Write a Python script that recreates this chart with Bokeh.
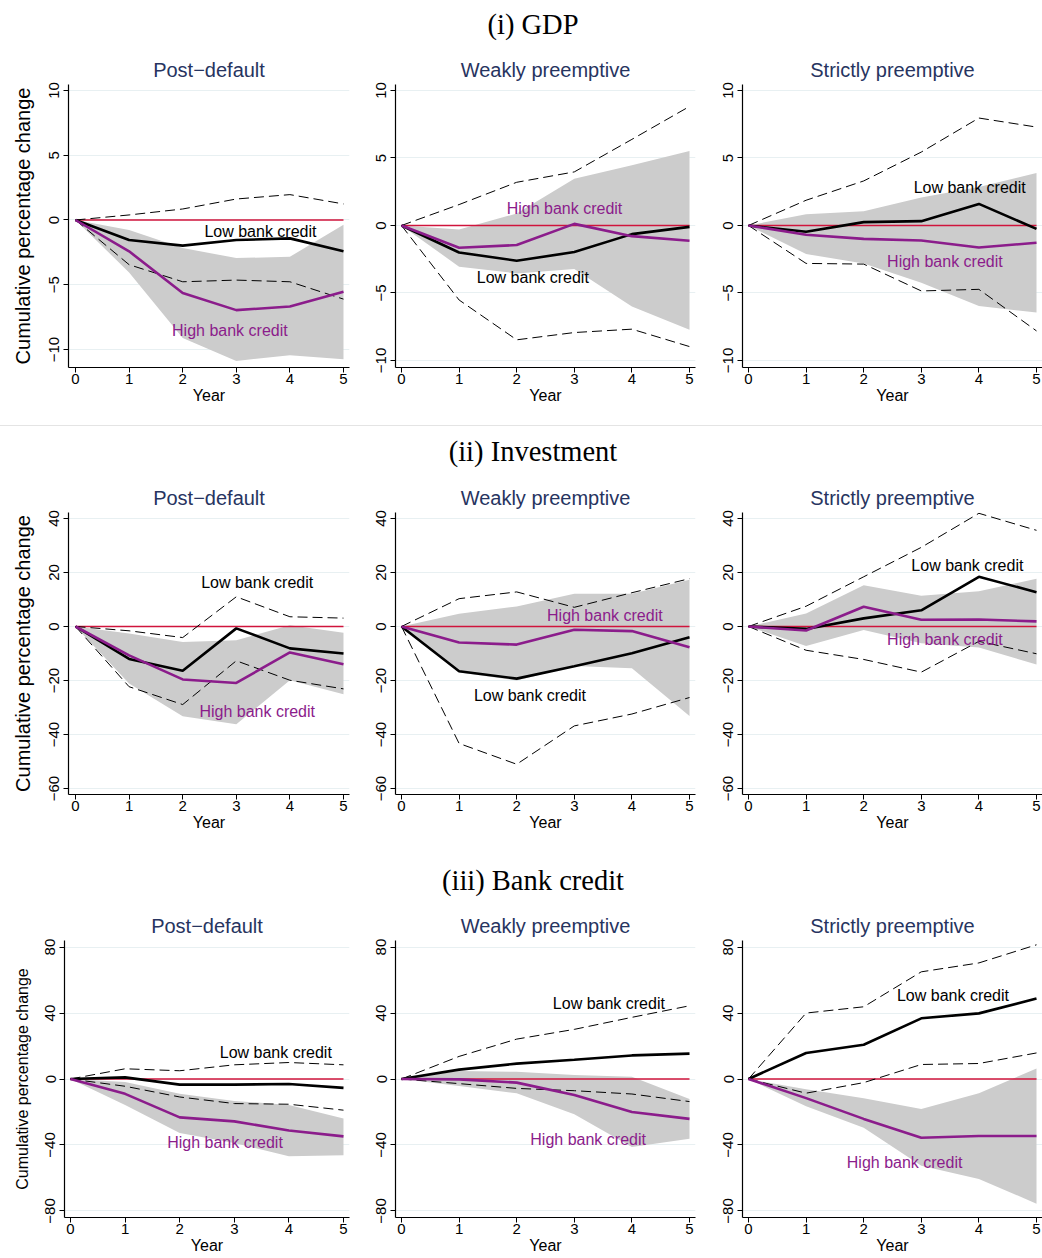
from bokeh.plotting import figure
from bokeh.layouts import column, row
from bokeh.models import Div, Range1d, FixedTicker
from bokeh.core.properties import value
from bokeh.embed import file_html
from bokeh.resources import INLINE

# ---------------- data ----------------
years = [0, 1, 2, 3, 4, 5]
row_titles = ["(i) GDP", "(ii) Investment", "(iii) Bank credit"]
panel_titles = ["Post\u2212default", "Weakly preemptive", "Strictly preemptive"]
gdp_ticks = [-10, -5, 0, 5, 10]
inv_ticks = [-60, -40, -20, 0, 20, 40]
cred_ticks = [-80, -40, 0, 40, 80]
low_label = "Low bank credit"
high_label = "High bank credit"
y_title = "Cumulative percentage change"
x_title = "Year"

# GDP
gdp_post_low = [0, -1.55, -1.98, -1.55, -1.42, -2.42]
gdp_post_low_lb = [0, -3.45, -4.77, -4.64, -4.77, -6.11]
gdp_post_low_ub = [0, 0.39, 0.85, 1.62, 1.96, 1.24]
gdp_post_high = [0, -2.42, -5.64, -6.96, -6.68, -5.54]
gdp_post_high_lb = [0, -4.05, -9.12, -10.88, -10.44, -10.75]
gdp_post_high_ub = [0, -0.77, -2.16, -2.94, -2.84, -0.36]

gdp_weak_low = [0, -2.0, -2.61, -1.97, -0.64, -0.1]
gdp_weak_low_lb = [0, -5.52, -8.47, -7.93, -7.68, -8.97]
gdp_weak_low_ub = [0, 1.55, 3.2, 3.97, 6.38, 8.82]
gdp_weak_high = [0, -1.65, -1.45, 0.12, -0.79, -1.13]
gdp_weak_high_lb = [0, -3.05, -3.55, -3.23, -6.0, -7.73]
gdp_weak_high_ub = [0, -0.3, 0.89, 3.47, 4.46, 5.52]

gdp_strict_low = [0, -0.47, 0.25, 0.32, 1.6, -0.25]
gdp_strict_low_lb = [0, -2.81, -2.86, -4.85, -4.73, -7.81]
gdp_strict_low_ub = [0, 1.87, 3.3, 5.44, 7.96, 7.29]
gdp_strict_high = [0, -0.69, -0.99, -1.11, -1.63, -1.28]
gdp_strict_high_lb = [0, -2.12, -2.81, -4.24, -5.96, -6.45]
gdp_strict_high_ub = [0, 0.84, 1.06, 2.07, 2.86, 3.89]

# Investment
inv_post_low = [0, -12.0, -16.4, -0.7, -8.1, -10.0]
inv_post_low_lb = [0, -22.3, -28.9, -12.7, -19.9, -23.1]
inv_post_low_ub = [0, -1.6, -4.1, 11.0, 3.6, 3.1]
inv_post_high = [0, -10.7, -19.6, -20.9, -9.6, -14.0]
inv_post_high_lb = [0, -21.1, -33.2, -36.2, -19.9, -25.1]
inv_post_high_ub = [0, -2.6, -5.7, -5.1, 0.5, -2.3]

inv_weak_low = [0, -16.6, -19.3, -14.7, -9.9, -4.0]
inv_weak_low_lb = [0, -43.3, -51.0, -36.8, -32.4, -26.3]
inv_weak_low_ub = [0, 10.3, 12.8, 7.1, 12.5, 17.7]
inv_weak_high = [0, -5.9, -6.7, -1.2, -1.7, -7.7]
inv_weak_high_lb = [0, -17.0, -20.0, -14.6, -15.5, -33.1]
inv_weak_high_ub = [0, 4.7, 7.4, 12.1, 12.1, 17.3]

inv_strict_low = [0, -0.9, 3.0, 6.0, 18.4, 12.7]
inv_strict_low_lb = [0, -8.8, -12.2, -16.9, -5.5, -10.1]
inv_strict_low_ub = [0, 7.5, 18.4, 29.3, 41.9, 35.6]
inv_strict_high = [0, -1.5, 7.3, 2.5, 2.6, 1.9]
inv_strict_high_lb = [0, -7.2, -1.3, -6.2, -7.8, -14.1]
inv_strict_high_ub = [0, 4.8, 15.3, 11.4, 13.0, 17.7]

# Bank credit
cred_post_low = [0, 1.0, -3.4, -3.4, -3.0, -5.4]
cred_post_low_lb = [0, -4.4, -10.9, -14.9, -15.3, -18.9]
cred_post_low_ub = [0, 6.2, 5.0, 8.6, 10.0, 8.6]
cred_post_high = [0, -9.0, -23.3, -25.7, -31.2, -34.8]
cred_post_high_lb = [0, -15.7, -32.8, -38.8, -46.8, -46.2]
cred_post_high_ub = [0, -1.8, -9.0, -13.3, -15.7, -23.9]

cred_weak_low = [0, 5.7, 9.3, 11.7, 14.3, 15.4]
cred_weak_low_lb = [0, -2.8, -5.7, -7.1, -9.1, -13.7]
cred_weak_low_ub = [0, 13.7, 24.2, 30.1, 37.4, 44.4]
cred_weak_high = [0, -0.2, -2.2, -9.7, -20.0, -24.2]
cred_weak_high_lb = [0, -4.2, -8.7, -21.4, -41.2, -36.2]
cred_weak_high_ub = [0, 4.8, 4.4, 2.4, 1.4, -12.1]

cred_strict_low = [0, 15.8, 20.8, 36.8, 39.8, 48.8]
cred_strict_low_lb = [0, -8.6, -2.2, 8.8, 9.4, 15.8]
cred_strict_low_ub = [0, 40.0, 43.8, 65.0, 70.4, 81.4]
cred_strict_high = [0, -11.6, -24.2, -35.6, -34.6, -34.6]
cred_strict_high_lb = [0, -16.6, -29.6, -52.6, -60.6, -75.6]
cred_strict_high_ub = [0, -6.2, -11.6, -18.2, -8.6, 6.4]

# ---------------- layout / style (not data) ----------------
panels = [
    [
        (gdp_post_low, gdp_post_low_lb, gdp_post_low_ub, gdp_post_high, gdp_post_high_lb, gdp_post_high_ub),
        (gdp_weak_low, gdp_weak_low_lb, gdp_weak_low_ub, gdp_weak_high, gdp_weak_high_lb, gdp_weak_high_ub),
        (gdp_strict_low, gdp_strict_low_lb, gdp_strict_low_ub, gdp_strict_high, gdp_strict_high_lb, gdp_strict_high_ub),
    ],
    [
        (inv_post_low, inv_post_low_lb, inv_post_low_ub, inv_post_high, inv_post_high_lb, inv_post_high_ub),
        (inv_weak_low, inv_weak_low_lb, inv_weak_low_ub, inv_weak_high, inv_weak_high_lb, inv_weak_high_ub),
        (inv_strict_low, inv_strict_low_lb, inv_strict_low_ub, inv_strict_high, inv_strict_high_lb, inv_strict_high_ub),
    ],
    [
        (cred_post_low, cred_post_low_lb, cred_post_low_ub, cred_post_high, cred_post_high_lb, cred_post_high_ub),
        (cred_weak_low, cred_weak_low_lb, cred_weak_low_ub, cred_weak_high, cred_weak_high_lb, cred_weak_high_ub),
        (cred_strict_low, cred_strict_low_lb, cred_strict_low_ub, cred_strict_high, cred_strict_high_lb, cred_strict_high_ub),
    ],
]
row_ticks = [gdp_ticks, inv_ticks, cred_ticks]

# label anchor positions in data units: (low_x, low_y, high_x, high_y)
label_pos = [
    [(3.45, -0.88, 2.88, -8.5), (2.28, -3.84, 2.83, 1.23), (3.84, 2.81, 3.41, -2.64)],
    [(3.39, 16.3, 3.39, -31.6), (2.23, -25.4, 3.53, 4.1), (3.8, 22.4, 3.41, -4.9)],
    [(3.76, 15.9, 2.83, -38.6), (3.6, 45.7, 3.24, -36.4), (3.55, 50.8, 2.71, -50.6)],
]

y_ranges = [
    [(-11.39, 10.463), (-10.52, 10.444), (-10.52, 10.444)],
    [(-62.2, 42.2), (-62.2, 42.2), (-62.2, 42.2)],
    [(-84.0, 84.0), (-84.0, 84.0), (-84.0, 84.0)],
]
x_ranges = [(-0.1306, 5.112), (-0.104, 5.104), (-0.104, 5.104)]
x_range_r3c1 = (-0.11, 5.11)
col_widths = [360, 345, 337]
border_lr = [(68, 11), (35, 10), (37, 0)]
fig_heights = [362, 362, 354]
border_tb = [(36, 43), (36, 44), (36, 41)]
hdr_specs = [(48, 10, False), (66, 11, True), (66, 28, False)]

FONT = "Liberation Sans"
SERIF = "Liberation Serif"
PURPLE = "#8b1c8b"
RED = "#d0143c"
BAND = "#cccccc"
GRID = "#e8f0f2"
TITLE_C = "#27345f"


def minus(t):
    return str(t).replace("-", "\u2212")


def make_panel(r, c):
    low, low_lb, low_ub, high, high_lb, high_ub = panels[r][c]
    ticks = row_ticks[r]
    bl, br = border_lr[c]
    xr = x_ranges[c]
    if r == 2 and c == 0:
        bl, xr = 64, x_range_r3c1
    bt, bb = border_tb[r]
    p = figure(width=col_widths[c], height=fig_heights[r], output_backend="svg",
               toolbar_location=None, x_range=Range1d(*xr), y_range=Range1d(*y_ranges[r][c]),
               min_border_left=bl, min_border_right=br, min_border_top=bt, min_border_bottom=bb,
               title=panel_titles[c])
    p.outline_line_color = None
    p.background_fill_color = "white"
    p.border_fill_color = "white"
    p.title.align = "center"
    p.title.text_font = FONT
    p.title.text_font_size = "20px"
    p.title.text_font_style = "normal"
    p.title.text_color = TITLE_C
    p.title.standoff = 7

    p.xgrid.visible = False
    p.ygrid.ticker = FixedTicker(ticks=ticks)
    p.ygrid.grid_line_color = GRID
    p.ygrid.grid_line_width = 1

    p.xaxis.ticker = FixedTicker(ticks=years)
    p.yaxis.ticker = FixedTicker(ticks=ticks)
    p.yaxis.major_label_overrides = {t: minus(t) for t in ticks}
    p.yaxis.major_label_orientation = "vertical"
    for ax in (p.xaxis[0], p.yaxis[0]):
        ax.axis_line_color = "black"
        ax.axis_line_width = 1.2
        ax.major_tick_line_color = "black"
        ax.major_tick_in = 0
        ax.major_tick_out = 5
        ax.minor_tick_line_color = None
        ax.major_label_text_font = FONT
        ax.major_label_text_font_size = "15px"
        ax.major_label_text_color = "black"
        ax.axis_label_text_font = FONT
        ax.axis_label_text_font_style = "normal"
        ax.axis_label_text_color = "black"
    p.xaxis.major_label_standoff = 1
    p.yaxis.major_label_standoff = 4
    p.xaxis.axis_label = x_title
    p.xaxis.axis_label_text_font_size = "16px"
    p.xaxis.axis_label_standoff = 0
    if c == 0:
        p.yaxis.axis_label = y_title
        p.yaxis.axis_label_text_font_size = "20px" if r < 2 else "16px"
        p.yaxis.axis_label_standoff = 13 if r < 2 else 12

    p.varea(x=years, y1=high_lb, y2=high_ub, fill_color=BAND, fill_alpha=1)
    p.line(x=years, y=[0] * len(years), line_color=RED, line_width=1.3)
    p.line(x=years, y=low_ub, line_color="black", line_width=1, line_dash="10 5")
    p.line(x=years, y=low_lb, line_color="black", line_width=1, line_dash="10 5")
    p.line(x=years, y=low, line_color="black", line_width=2.6)
    p.line(x=years, y=high, line_color=PURPLE, line_width=2.6)

    lx, ly, hx, hy = label_pos[r][c]
    p.text(x=[lx], y=[ly], text=[low_label], text_font=value(FONT), text_font_size="16px",
           text_color="black", text_align="center", text_baseline="middle")
    p.text(x=[hx], y=[hy], text=[high_label], text_font=value(FONT), text_font_size="16px",
           text_color=PURPLE, text_align="center", text_baseline="middle")
    return p


def header(text, height, pad_top, sep=False):
    line = ""
    if sep:
        line = '<div style="width:1042px;height:16px;border-bottom:1px solid #e4e4e4;"></div>'
    html = (line + '<div style="width:1042px;box-sizing:border-box;font-family:\'%s\';'
            'font-size:28.5px;line-height:30px;text-align:center;padding-left:24px;'
            'padding-top:%dpx;color:black;">%s</div>' % (SERIF, pad_top, text))
    return Div(text=html, width=1042, height=height, margin=0)


children = []
for r in range(3):
    h, pad, sep = hdr_specs[r]
    children.append(header(row_titles[r], h, pad, sep))
    children.append(row(*[make_panel(r, c) for c in range(3)], spacing=0))

layout = column(*children, spacing=0)
open("out.html", "w").write(file_html(layout, INLINE))
